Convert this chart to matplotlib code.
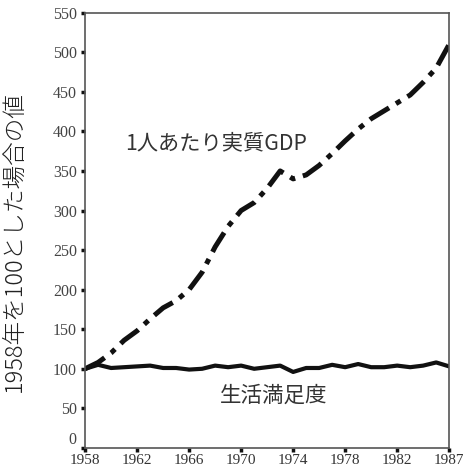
import matplotlib
matplotlib.use('Agg')
import matplotlib.pyplot as plt
import matplotlib.transforms as mtransforms

plt.rcParams['font.family'] = ['Noto Sans CJK JP', 'DejaVu Sans']

# one point per year, index 0 = 1958
years_idx = list(range(29))
gdp = [100, 108, 120, 136, 148, 163, 177, 186, 200, 222,
       254, 280, 300, 310, 328, 350, 340, 345, 357, 372,
       388, 403, 416, 426, 436, 446, 462, 480, 510]
satisfaction = [100, 105, 101, 102, 103, 104, 101, 101, 99, 100,
                104, 102, 104, 100, 102, 104, 96, 101, 101, 105,
                102, 106, 102, 102, 104, 102, 104, 108, 103]
xtick_pos = [0, 4, 8, 12, 16, 20, 24, 28]
xtick_labels = ['1958', '1962', '1966', '1970', '1974', '1978', '1982', '1987']
ytick_vals = list(range(0, 551, 50))

fig = plt.figure(figsize=(4.65, 4.70), dpi=100)
ax = fig.add_axes([0.183, 0.047, 0.783, 0.926])

ax.plot(years_idx, gdp, color='#111111', lw=3.6, dashes=(4.5, 1.6, 1.1, 1.6),
        solid_capstyle='butt', dash_capstyle='butt')
ax.plot(years_idx, satisfaction, color='#111111', lw=3.0)

ax.set_xlim(0, 28)
ax.set_ylim(0, 550)
ax.set_xticks(xtick_pos)
ax.set_xticklabels(xtick_labels, family='Liberation Serif', fontsize=11, color='#333333')
ax.set_yticks(ytick_vals)
ax.set_yticklabels([str(v) for v in ytick_vals], family='Liberation Serif',
                   fontsize=11.5, color='#444444')
ax.tick_params(length=3, width=2.5, color='#111111')
ax.tick_params(axis='x', pad=1.5)
ax.tick_params(axis='y', pad=3)

# the "0" label sits a bit above its tick in the original
zero_lbl = ax.get_yticklabels()[0]
zero_lbl.set_transform(zero_lbl.get_transform() +
                       mtransforms.ScaledTranslation(0, 7 / 72, fig.dpi_scale_trans))

for s in ax.spines.values():
    s.set_color('#555555')
    s.set_linewidth(1.2)

ax.set_ylabel('1958年を100とした場合の値', fontsize=17, color='#222222',
              fontweight='light')
ax.yaxis.set_label_coords(-0.159, 0.475)

ax.text(10.1, 385, '1人あたり実質GDP', fontsize=15.3, color='#333333',
        ha='center', va='center')
ax.text(14.5, 66, '生活満足度', fontsize=15.5, color='#333333', ha='center', va='center')

fig.savefig('out.png', dpi=100)
